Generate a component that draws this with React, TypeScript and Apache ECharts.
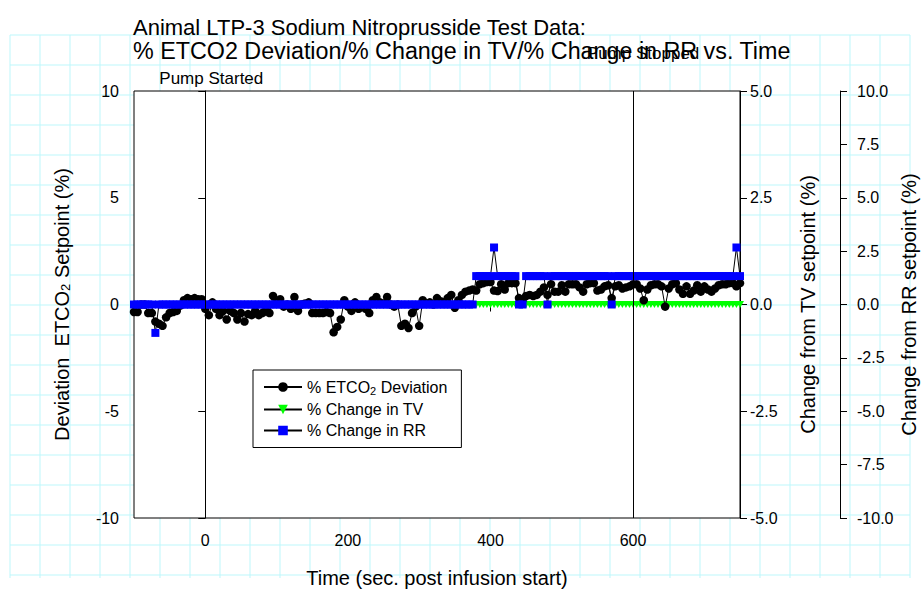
import React, { useEffect, useRef } from "react";
import * as echarts from "echarts";

// Time (s post infusion start)
const times = [
  -100, -95, -90, -85, -80, -75, -70, -65, -60, -55,
  -50, -45, -40, -35, -30, -25, -20, -15, -10, -5,
  0, 5, 10, 15, 20, 25, 30, 35, 40, 45,
  50, 55, 60, 65, 70, 75, 80, 85, 90, 95,
  100, 105, 110, 115, 120, 125, 130, 135, 140, 145,
  150, 155, 160, 165, 170, 175, 180, 185, 190, 195,
  200, 205, 210, 215, 220, 225, 230, 235, 240, 245,
  250, 255, 260, 265, 270, 275, 280, 285, 290, 295,
  300, 305, 310, 315, 320, 325, 330, 335, 340, 345,
  350, 355, 360, 365, 370, 375, 380, 385, 390, 395,
  400, 405, 410, 415, 420, 425, 430, 435, 440, 445,
  450, 455, 460, 465, 470, 475, 480, 485, 490, 495,
  500, 505, 510, 515, 520, 525, 530, 535, 540, 545,
  550, 555, 560, 565, 570, 575, 580, 585, 590, 595,
  600, 605, 610, 615, 620, 625, 630, 635, 640, 645,
  650, 655, 660, 665, 670, 675, 680, 685, 690, 695,
  700, 705, 710, 715, 720, 725, 730, 735, 740, 745,
  750,
];

// % ETCO2 deviation
const etco2Deviation = [
  -0.35, -0.35, 0, 0, -0.4, -0.4, -0.8, -0.9, -1.0, -0.6,
  -0.4, -0.35, -0.3, -0.05, 0.2, 0.3, 0.25, 0.3, 0.25, 0.25,
  -0.2, -0.5, 0.1, -0.2, -0.5, -0.3, -0.7, -0.3, -0.4, -0.7,
  -0.4, -0.8, -0.45, -0.5, -0.3, -0.5, -0.4, -0.2, -0.4, 0.4,
  0.1, 0.25, -0.1, 0, -0.2, 0.35, -0.3, 0, 0.05, 0.1,
  -0.4, -0.4, -0.4, -0.4, -0.35, -0.4, -1.3, -1.05, -0.7, 0.2,
  -0.1, -0.3, 0.1, -0.2, -0.1, -0.2, -0.4, 0.2, 0.35, 0.1,
  0.05, 0.35, 0, -0.1, 0, -1.0, -0.9, -1.1, -0.4, -0.1,
  -1.0, 0.2, 0.05, 0.1, 0, 0.3, 0.15, 0.1, 0.3, 0.45,
  -0.15, 0.2, 0.45, 0.6, 0.65, 0.7, 0.65, 0.95, 1.0, 1.05,
  1.05, 0.65, 0.63, 0.95, 0.7, 1.0, 1.0, 1.0, 0.3, 0.2,
  0.4, 0.45, 0.4, 0.45, 0.6, 0.8, 0.45, 0.95, 0.6, 0.6,
  0.9, 0.6, 0.95, 0.95, 0.95, 0.8, 0.6, 0.95, 1.0, 1.0,
  0.65, 0.7, 0.85, 0.9, 0.3, 0.85, 0.9, 0.75, 0.8, 0.85,
  0.95, 0.95, 0.75, 0.2, 0.7, 0.9, 0.95, 0.95, 0.85, -0.1,
  0.75, 0.95, 1.0, 0.7, 0.5, 0.85, 0.5, 0.65, 0.9, 0.6,
  0.85, 0.7, 0.6, 0.75, 0.9, 0.95, 0.95, 1.0, 1.0, 0.85,
  1.0,
];

// % change in TV
const tvChange = [
  0, 0, 0, 0, 0, 0, 0, 0, 0, 0,
  0, 0, 0, 0, 0, 0, 0, 0, 0, 0,
  0, 0, 0, 0, 0, 0, 0, 0, 0, 0,
  0, 0, 0, 0, 0, 0, 0, 0, 0, 0,
  0, 0, 0, 0, 0, 0, 0, 0, 0, 0,
  0, 0, 0, 0, 0, 0, 0, 0, 0, 0,
  0, 0, 0, 0, 0, 0, 0, 0, 0, 0,
  0, 0, 0, 0, 0, 0, 0, 0, 0, 0,
  0, 0, 0, 0, 0, 0, 0, 0, 0, 0,
  0, 0, 0, 0, 0, 0, 0, 0, 0, 0,
  0, 0, 0, 0, 0, 0, 0, 0, 0, 0,
  0, 0, 0, 0, 0, 0, 0, 0, 0, 0,
  0, 0, 0, 0, 0, 0, 0, 0, 0, 0,
  0, 0, 0, 0, 0, 0, 0, 0, 0, 0,
  0, 0, 0, 0, 0, 0, 0, 0, 0, 0,
  0, 0, 0, 0, 0, 0, 0, 0, 0, 0,
  0, 0, 0, 0, 0, 0, 0, 0, 0, 0,
  0,
];

// % change in RR
const rrChange = [
  0, 0, 0, 0, 0, 0, -1.33, 0, 0, 0,
  0, 0, 0, 0, 0, 0, 0, 0, 0, 0,
  0, 0, 0, 0, 0, 0, 0, 0, 0, 0,
  0, 0, 0, 0, 0, 0, 0, 0, 0, 0,
  0, 0, 0, 0, 0, 0, 0, 0, 0, 0,
  0, 0, 0, 0, 0, 0, 0, 0, 0, 0,
  0, 0, 0, 0, 0, 0, 0, 0, 0, 0,
  0, 0, 0, 0, 0, 0, 0, 0, 0, 0,
  0, 0, 0, 0, 0, 0, 0, 0, 0, 0,
  0, 0, 0, 0, 0, 0, 1.33, 1.33, 1.33, 1.33,
  1.33, 2.67, 1.33, 1.33, 1.33, 1.33, 1.33, 1.33, 0, 0,
  1.33, 1.33, 1.33, 1.33, 1.33, 1.33, 0, 1.33, 1.33, 1.33,
  1.33, 1.33, 1.33, 1.33, 1.33, 1.33, 1.33, 1.33, 1.33, 1.33,
  1.33, 1.33, 1.33, 1.33, 0, 1.33, 1.33, 1.33, 1.33, 1.33,
  1.33, 1.33, 1.33, 1.33, 1.33, 1.33, 1.33, 1.33, 1.33, 1.33,
  1.33, 1.33, 1.33, 1.33, 1.33, 1.33, 1.33, 1.33, 1.33, 1.33,
  1.33, 1.33, 1.33, 1.33, 1.33, 1.33, 1.33, 1.33, 1.33, 2.67,
  1.33,
];

const xTickValues = [0, 200, 400, 600];
const events = [
  { t: 0, label: "Pump Started" },
  { t: 600, label: "Pump Stopped" },
];

const FONT = "'Liberation Sans', Arial, sans-serif";

function buildBackgroundGrid() {
  const els: any[] = [];
  const color = "#bdf7fb";
  for (let x = 10; x <= 910; x += 30) {
    els.push({ type: "line", z: -10, silent: true, shape: { x1: x, y1: 35, x2: x, y2: 578 }, style: { stroke: color, lineWidth: 1 } });
  }
  for (let y = 35; y <= 578; y += 30) {
    els.push({ type: "line", z: -10, silent: true, shape: { x1: 10, y1: y, x2: 910, y2: y }, style: { stroke: color, lineWidth: 1 } });
  }
  return els;
}

export default function App() {
  const ref = useRef<HTMLDivElement>(null);
  useEffect(() => {
    if (!ref.current) return;
    const chart = echarts.init(ref.current, undefined, { renderer: "svg" });
    const sub = { fontSize: 11, padding: [8, 0, 0, 0], fontFamily: FONT, color: "#000" };
    const axisCommon = {
      axisLine: { show: true, lineStyle: { color: "#000", width: 1 } },
      axisTick: { show: true, inside: false, length: 7, lineStyle: { color: "#000" } },
      splitLine: { show: false },
    };
    const option: any = {
      animation: false,
      backgroundColor: "#fff",
      textStyle: { fontFamily: FONT },
      title: {
        text: "Animal LTP-3 Sodium Nitroprusside Test Data:",
        subtext: "% ETCO2 Deviation/% Change in TV/% Change in RR vs. Time",
        left: 128,
        top: 10,
        itemGap: 0,
        textStyle: { fontSize: 22, fontWeight: "normal", color: "#000", fontFamily: FONT, lineHeight: 24 },
        subtextStyle: { fontSize: 23.3, fontWeight: "normal", color: "#000", fontFamily: FONT, lineHeight: 24 },
      },
      graphic: buildBackgroundGrid(),
      grid: {
        left: 134,
        right: 182,
        top: 91,
        bottom: 75,
        outerBoundsMode: "none",
        containLabel: false,
        show: true,
        backgroundColor: "#fff",
        borderColor: "#000",
        borderWidth: 1,
      },
      legend: {
        orient: "vertical",
        left: 253,
        top: 370,
        padding: [9, 14, 9, 10],
        backgroundColor: "#fff",
        borderColor: "#000",
        borderWidth: 1,
        itemWidth: 38,
        itemHeight: 12,
        itemGap: 5,
        data: ["etco", "tv", "rr"],
        formatter: (name: string) =>
          name === "etco" ? "% ETCO{sub|2} Deviation" : name === "tv" ? "% Change in TV" : "% Change in RR",
        textStyle: { fontSize: 16, color: "#000", fontFamily: FONT, rich: { sub } },
      },
      xAxis: {
        type: "value",
        min: -100,
        max: 750,
        name: "Time (sec. post infusion start)",
        nameLocation: "middle",
        nameGap: 50,
        nameTextStyle: { fontSize: 20, color: "#000", fontFamily: FONT },
        ...axisCommon,
        axisTick: { show: true, length: 7, lineStyle: { color: "#000" }, customValues: xTickValues },
        axisLabel: { fontSize: 16, color: "#000", margin: 14, customValues: xTickValues, fontFamily: FONT },
      },
      yAxis: [
        {
          type: "value",
          position: "left",
          min: -10,
          max: 10,
          interval: 5,
          name: "Deviation  ETCO{sub|2} Setpoint (%)",
          nameLocation: "middle",
          nameGap: 62,
          nameRotate: 90,
          nameTextStyle: { fontSize: 20, color: "#000", fontFamily: FONT, rich: { sub: { ...sub, fontSize: 13 } } },
          ...axisCommon,
          axisLabel: { fontSize: 16, color: "#000", margin: 15, fontFamily: FONT },
        },
        {
          type: "value",
          position: "right",
          min: -5,
          max: 5,
          interval: 2.5,
          name: "Change from TV setpoint (%)",
          nameLocation: "middle",
          nameGap: 58,
          nameRotate: 90,
          nameTextStyle: { fontSize: 20, color: "#000", fontFamily: FONT },
          ...axisCommon,
          axisLabel: { fontSize: 16, color: "#000", margin: 10, fontFamily: FONT, formatter: (v: number) => v.toFixed(1) },
        },
        {
          type: "value",
          position: "right",
          offset: 100,
          min: -10,
          max: 10,
          interval: 2.5,
          name: "Change from RR setpoint (%)",
          nameLocation: "middle",
          nameGap: 59,
          nameRotate: 90,
          nameMoveOverlap: false,
          nameTextStyle: { fontSize: 20, color: "#000", fontFamily: FONT },
          ...axisCommon,
          axisLabel: { fontSize: 16, color: "#000", margin: 17, fontFamily: FONT, formatter: (v: number) => v.toFixed(1) },
        },
      ],
      series: [
        {
          name: "tv",
          type: "line",
          yAxisIndex: 1,
          data: times.map((t, i) => [t, tvChange[i]]),
          symbol: "triangle",
          symbolRotate: 180,
          symbolSize: [8, 7],
          showAllSymbol: true,
          itemStyle: { color: "#00ff00" },
          lineStyle: { color: "#000", width: 1 },
          z: 2,
        },
        {
          name: "etco",
          type: "line",
          yAxisIndex: 0,
          data: times.map((t, i) => [t, etco2Deviation[i]]),
          symbol: "circle",
          symbolSize: 8.5,
          showAllSymbol: true,
          itemStyle: { color: "#000" },
          lineStyle: { color: "#000", width: 1 },
          z: 3,
          markLine: {
            silent: true,
            symbol: ["none", "none"],
            lineStyle: { color: "#000", type: "solid", width: 1 },
            label: { show: true, position: "end", color: "#000", fontSize: 17, fontFamily: FONT },
            data: [
              { xAxis: events[0].t, label: { formatter: events[0].label, distance: 4, padding: [0, 0, 0, 12] } },
              { xAxis: events[1].t, label: { formatter: events[1].label, distance: 29, padding: [0, 0, 0, 20] } },
            ],
          },
        },
        {
          name: "rr",
          type: "line",
          yAxisIndex: 2,
          data: times.map((t, i) => [t, rrChange[i]]),
          symbol: "rect",
          symbolSize: 8,
          showAllSymbol: true,
          itemStyle: { color: "#0000ff" },
          lineStyle: { color: "#000", width: 1 },
          z: 4,
        },
      ],
    };
    chart.setOption(option);
    return () => chart.dispose();
  }, []);
  return <div ref={ref} style={{ position: "absolute", left: 0, top: 0, width: 922, height: 593 }} />;
}
